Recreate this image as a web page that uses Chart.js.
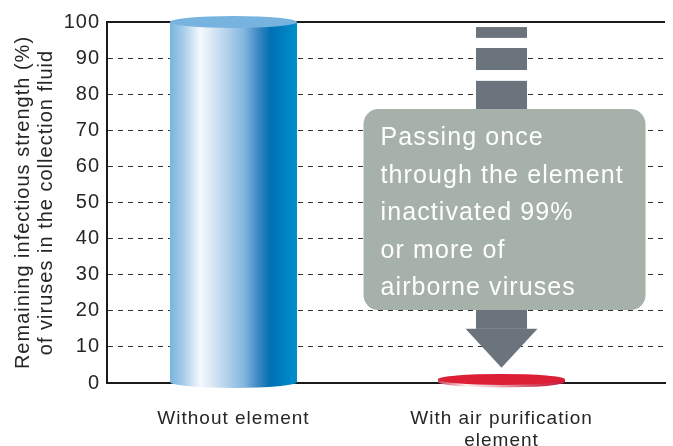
<!DOCTYPE html>
<html>
<head>
<meta charset="utf-8">
<script src="https://cdn.jsdelivr.net/npm/chart.js@4/dist/chart.umd.min.js"></script>
<style>
  html, body { margin: 0; padding: 0; background: #fff; }
  canvas { display: block; }
</style>
</head>
<body>
<canvas id="virusChart" width="673" height="446"></canvas>
<script>
// Remaining infectious strength of airborne viruses, with / without the element
const categories = [
  'Without element',
  ['With air purification', 'element']
];
const strengthValues = [100, 1];
const yTicks = [0, 10, 20, 30, 40, 50, 60, 70, 80, 90, 100];
const yTitle = ['Remaining infectious strength (%)', 'of viruses in the collection fluid'];
const calloutLines = [
  'Passing once',
  'through the element',
  'inactivated 99%',
  'or more of',
  'airborne viruses'
];

const FONT = "'Liberation Sans', Arial, sans-serif";
const TEXT_COLOR = '#262626';

// side gradient stops + lid colour for each cylinder
const cylinderLooks = [
  {
    stops: [[0, '#78b4de'], [0.1, '#a4cbe9'], [0.24, '#f5f9fd'], [0.4, '#c3dbef'],
            [0.58, '#83b7de'], [0.7, '#3a86c2'], [0.79, '#0070b3'], [0.9, '#0080c3'], [1, '#0090cb']],
    lid: '#76b3de',
    ry: 6
  },
  {
    stops: [[0, '#c63e4f'], [0.1, '#e2929e'], [0.22, '#fcf1f3'], [0.4, '#f1c4cc'],
            [0.6, '#e07f92'], [0.8, '#cf3a56'], [1, '#c01c3c']],
    lid: '#dd1f36',
    ry: 5.5
  }
];

// Cylinders, arrow and callout box on top of the plain bars
const cylinderPlugin = {
  id: 'cylinders',
  beforeDraw(chart) {
    chart.ctx.letterSpacing = '1px';
  },
  afterDatasetsDraw(chart) {
    const ctx = chart.ctx;
    const xScale = chart.scales.x;
    const yScale = chart.scales.y;
    const meta = chart.getDatasetMeta(0);

    ctx.save();
    meta.data.forEach((bar, i) => {
      const { x, y, base, width } = bar.getProps(['x', 'y', 'base', 'width'], true);
      const look = cylinderLooks[i];
      const left = x - width / 2;
      const right = x + width / 2;
      const rx = width / 2;

      const grad = ctx.createLinearGradient(left, 0, right, 0);
      look.stops.forEach(([p, c]) => grad.addColorStop(p, c));

      // body + rounded bottom
      ctx.beginPath();
      ctx.moveTo(left, y);
      ctx.lineTo(left, base);
      ctx.ellipse(x, base, rx, look.ry, 0, Math.PI, 0, true);
      ctx.lineTo(right, y);
      ctx.closePath();
      ctx.fillStyle = grad;
      ctx.fill();

      // lid
      ctx.beginPath();
      ctx.ellipse(x, y, rx, look.ry, 0, 0, Math.PI * 2);
      ctx.fillStyle = look.lid;
      ctx.fill();
    });

    // arrow falling onto the second cylinder
    const cx = xScale.getPixelForValue(1);
    const py = v => yScale.getPixelForValue(v);
    const shaft = 25.5;
    ctx.fillStyle = '#6b737c';
    [[98.6, 95.6], [92.8, 86.7], [83.7, 60], [30, 15]].forEach(([a, b]) => {
      ctx.fillRect(cx - shaft, py(a), shaft * 2, py(b) - py(a));
    });
    ctx.beginPath();
    ctx.moveTo(cx - 36, py(15));
    ctx.lineTo(cx + 36, py(15));
    ctx.lineTo(cx, py(4.2));
    ctx.closePath();
    ctx.fill();

    // callout box
    const bx = cx - 138;
    const bw = 282;
    const by = py(75.9);
    const bh = py(20.2) - by;
    ctx.beginPath();
    ctx.roundRect(bx, by, bw, bh, 15);
    ctx.fillStyle = '#a6b2a9';
    ctx.fill();

    ctx.fillStyle = '#ffffff';
    ctx.font = '25px ' + FONT;
    ctx.letterSpacing = '1.1px';
    ctx.textAlign = 'left';
    ctx.textBaseline = 'alphabetic';
    calloutLines.forEach((line, i) => {
      ctx.fillText(line, bx + 17, by + 36 + i * 37.5);
    });
    ctx.restore();
  }
};

const edgeTick = c => c.tick && (c.tick.value === 0 || c.tick.value === 100);

new Chart(document.getElementById('virusChart'), {
  type: 'bar',
  data: {
    datasets: [{
      data: strengthValues.map((v, i) => ({ x: i, y: v })),
      backgroundColor: 'rgba(0,0,0,0)',
      borderWidth: 0,
      barThickness: 127
    }]
  },
  options: {
    responsive: false,
    devicePixelRatio: 1,
    animation: false,
    layout: { padding: { top: 22, right: 8, left: 0, bottom: 0 } },
    plugins: {
      legend: { display: false },
      tooltip: { enabled: false }
    },
    scales: {
      x: {
        type: 'linear',
        offset: false,
        min: -0.472,
        max: 1.61,
        afterFit: s => { s.height = 63; },
        afterBuildTicks: s => { s.ticks = categories.map((_, i) => ({ value: i })); },
        grid: { display: false, offset: false },
        border: { display: true, color: '#1a1a1a', width: 2 },
        ticks: {
          autoSkip: false,
          maxRotation: 0,
          padding: 16,
          color: TEXT_COLOR,
          font: { family: FONT, size: 19, lineHeight: 1.2 },
          callback: v => categories[v]
        }
      },
      y: {
        min: 0,
        max: 100,
        afterFit: s => { s.width = 107; },
        afterBuildTicks: s => { s.ticks = yTicks.map(v => ({ value: v })); },
        grid: {
          drawTicks: false,
          color: c => edgeTick(c) ? '#1a1a1a' : '#333',
          lineWidth: c => edgeTick(c) ? 2 : 1
        },
        border: {
          display: true,
          color: '#1a1a1a',
          width: 2,
          dash: c => edgeTick(c) ? [] : [5, 5]
        },
        ticks: {
          padding: 7,
          color: TEXT_COLOR,
          font: { family: FONT, size: 20 }
        },
        title: {
          display: true,
          text: yTitle,
          color: TEXT_COLOR,
          padding: { top: 12, bottom: 0 },
          font: { family: FONT, size: 20, lineHeight: 1.15 }
        }
      }
    }
  },
  plugins: [cylinderPlugin]
});
</script>
</body>
</html>
